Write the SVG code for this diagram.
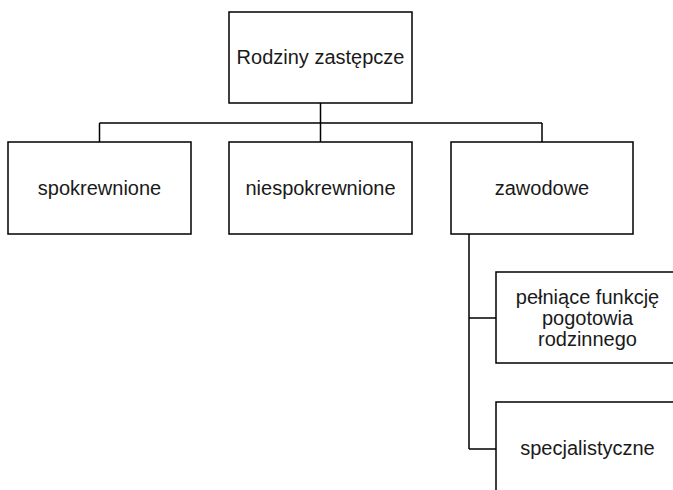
<svg xmlns="http://www.w3.org/2000/svg" width="673" height="490" viewBox="0 0 673 490">
<style>
.box{fill:#fff;stroke:#000;stroke-width:1.5}
.lbl{font-family:"Liberation Sans",Arial,sans-serif;font-size:20px;fill:#1a1a1a;text-anchor:middle}
.con{fill:none;stroke:#000;stroke-width:1.5}
</style>
<rect width="673" height="490" fill="#fff"/>
<g id="connectors">
<path class="con" d="M320.5 103V123M99.5 123H542M99.5 123V142M320.5 123V142M542 123V142"/>
<path class="con" d="M469 234V449M469 318H496M469 449H496"/>
</g>
<g id="root">
<rect class="box" x="229" y="12" width="183" height="91"/>
<text class="lbl" x="320.5" y="64">Rodziny zastępcze</text>
</g>
<g id="spokrewnione">
<rect class="box" x="8" y="142" width="183" height="92"/>
<text class="lbl" x="99.5" y="195">spokrewnione</text>
</g>
<g id="niespokrewnione">
<rect class="box" x="229" y="142" width="183" height="92"/>
<text class="lbl" x="320.5" y="195">niespokrewnione</text>
</g>
<g id="zawodowe">
<rect class="box" x="451" y="142" width="182" height="92"/>
<text class="lbl" x="542" y="195">zawodowe</text>
</g>
<g id="pogotowie">
<rect class="box" x="496" y="272" width="183" height="91"/>
<text class="lbl" x="587.5" y="304">pełniące funkcję</text>
<text class="lbl" x="587.5" y="325">pogotowia</text>
<text class="lbl" x="587.5" y="346">rodzinnego</text>
</g>
<g id="specjalistyczne">
<rect class="box" x="496" y="402" width="183" height="92"/>
<text class="lbl" x="587.5" y="455">specjalistyczne</text>
</g>
</svg>
